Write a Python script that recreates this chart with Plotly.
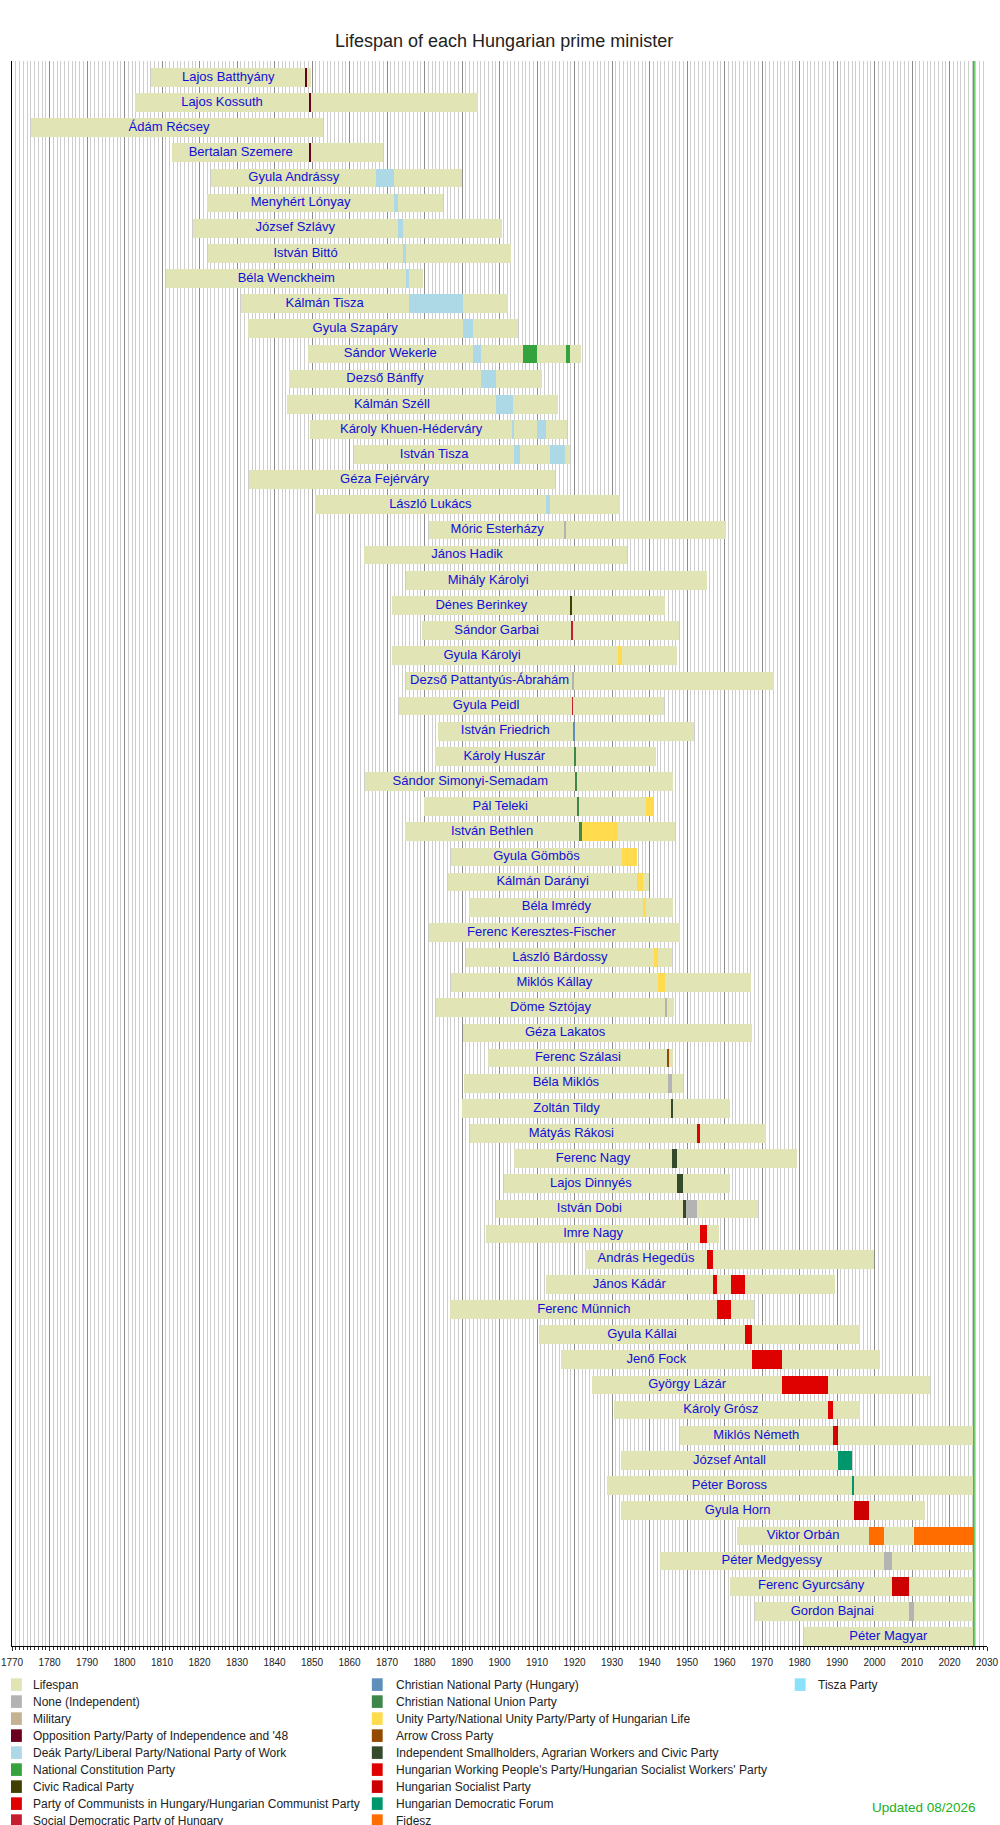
import plotly.graph_objects as go

# ---------------- data ----------------
names = [
    "Lajos Batthyány", "Lajos Kossuth", "Ádám Récsey", "Bertalan Szemere",
    "Gyula Andrássy", "Menyhért Lónyay", "József Szlávy", "István Bittó",
    "Béla Wenckheim", "Kálmán Tisza", "Gyula Szapáry", "Sándor Wekerle",
    "Dezső Bánffy", "Kálmán Széll", "Károly Khuen-Héderváry", "István Tisza",
    "Géza Fejérváry", "László Lukács", "Móric Esterházy", "János Hadik",
    "Mihály Károlyi", "Dénes Berinkey", "Sándor Garbai", "Gyula Károlyi",
    "Dezső Pattantyús-Ábrahám", "Gyula Peidl", "István Friedrich", "Károly Huszár",
    "Sándor Simonyi-Semadam", "Pál Teleki", "István Bethlen", "Gyula Gömbös",
    "Kálmán Darányi", "Béla Imrédy", "Ferenc Keresztes-Fischer", "László Bárdossy",
    "Miklós Kállay", "Döme Sztójay", "Géza Lakatos", "Ferenc Szálasi",
    "Béla Miklós", "Zoltán Tildy", "Mátyás Rákosi", "Ferenc Nagy",
    "Lajos Dinnyés", "István Dobi", "Imre Nagy", "András Hegedüs",
    "János Kádár", "Ferenc Münnich", "Gyula Kállai", "Jenő Fock",
    "György Lázár", "Károly Grósz", "Miklós Németh", "József Antall",
    "Péter Boross", "Gyula Horn", "Viktor Orbán", "Péter Medgyessy",
    "Ferenc Gyurcsány", "Gordon Bajnai", "Péter Magyar",
]

birth = [
    1807.12, 1802.72, 1775.0, 1812.65,
    1823.18, 1822.01, 1818.15, 1822.34,
    1811.13, 1830.94, 1832.83, 1848.87,
    1843.82, 1843.44, 1849.39, 1861.31,
    1833.20, 1850.81, 1881.32, 1863.89,
    1875.17, 1871.27, 1879.24, 1871.35,
    1875.19, 1873.26, 1883.50, 1882.69,
    1864.22, 1879.83, 1874.77, 1886.98,
    1886.22, 1891.99, 1881.13, 1890.94,
    1887.06, 1883.01, 1890.33, 1897.02,
    1890.44, 1889.88, 1892.19, 1903.77,
    1901.29, 1898.99, 1896.43, 1922.83,
    1912.40, 1886.88, 1910.42, 1916.38,
    1924.71, 1930.58, 1948.07, 1932.27,
    1928.65, 1932.51, 1963.41, 1942.80,
    1961.42, 1968.18, 1981.20,
]

# None = still alive at the time of the chart
death = [
    1849.76, 1894.22, 1852.98, 1869.05,
    1890.13, 1884.84, 1900.59, 1903.18,
    1879.51, 1902.22, 1905.05, 1921.65,
    1911.39, 1915.62, 1918.13, 1918.83,
    1914.82, 1932.15, 1960.49, 1933.94,
    1955.21, 1944.23, 1947.85, 1947.31,
    1973.32, 1943.81, 1951.90, 1941.82,
    1946.34, 1941.25, 1946.76, 1936.76,
    1939.83, 1946.16, 1948.17, 1946.03,
    1967.04, 1946.64, 1967.39, 1946.20,
    1948.89, 1961.59, 1971.10, 1979.45,
    1961.34, 1968.90, 1958.46, 1999.81,
    1989.51, 1967.91, 1996.19, 2001.39,
    2014.75, 1996.02, None, 1993.95,
    None, 2013.46, None, None,
    None, None, None,
]

# date each person first took office
first_office = [
    1848.21, 1849.28, 1848.75, 1849.33,
    1867.13, 1871.87, 1872.92, 1874.22,
    1875.17, 1875.80, 1890.20, 1892.88,
    1895.04, 1899.16, 1903.49, 1903.84,
    1905.46, 1912.31, 1917.45, 1918.83,
    1918.83, 1919.03, 1919.22, 1919.35,
    1919.53, 1919.58, 1919.60, 1919.90,
    1920.20, 1920.55, 1921.28, 1932.75,
    1936.78, 1938.37, 1941.25, 1941.25,
    1942.19, 1944.22, 1944.66, 1944.79,
    1944.97, 1945.87, 1946.08, 1946.09,
    1947.41, 1948.94, 1953.51, 1955.30,
    1956.84, 1958.08, 1965.50, 1967.29,
    1975.37, 1987.48, 1988.90, 1990.39,
    1993.95, 1994.54, 1998.51, 2002.40,
    2004.74, 2009.28, 2026.15,
]

parties = [
    "Lifespan",
    "None (Independent)",
    "Military",
    "Opposition Party/Party of Independence and '48",
    "Deák Party/Liberal Party/National Party of Work",
    "National Constitution Party",
    "Civic Radical Party",
    "Party of Communists in Hungary/Hungarian Communist Party",
    "Social Democratic Party of Hungary",
    "Christian National Party (Hungary)",
    "Christian National Union Party",
    "Unity Party/National Unity Party/Party of Hungarian Life",
    "Arrow Cross Party",
    "Independent Smallholders, Agrarian Workers and Civic Party",
    "Hungarian Working People's Party/Hungarian Socialist Workers' Party",
    "Hungarian Socialist Party",
    "Hungarian Democratic Forum",
    "Fidesz",
    "Tisza Party",
]

party_colors = [
    "#e1e4b5", "#b3b3b3", "#c4b393", "#6a0020", "#add8e6", "#34a33d",
    "#404000", "#e00000", "#c41e30", "#5e8fba", "#3f864a", "#ffdb4d",
    "#934900", "#354a2a", "#df0000", "#cc0000", "#00966b", "#ff6c00",
    "#8ae2fa",
]

# visible terms of office: person, start, end, party
term_person = [
    "Lajos Batthyány", "Lajos Kossuth", "Bertalan Szemere",
    "Gyula Andrássy", "Menyhért Lónyay", "József Szlávy", "István Bittó",
    "Béla Wenckheim", "Kálmán Tisza", "Gyula Szapáry",
    "Sándor Wekerle", "Sándor Wekerle", "Sándor Wekerle",
    "Dezső Bánffy", "Kálmán Széll",
    "Károly Khuen-Héderváry", "Károly Khuen-Héderváry",
    "István Tisza", "István Tisza", "László Lukács",
    "Móric Esterházy", "Dénes Berinkey", "Sándor Garbai", "Gyula Károlyi",
    "Dezső Pattantyús-Ábrahám", "Gyula Peidl", "István Friedrich",
    "Károly Huszár", "Sándor Simonyi-Semadam",
    "Pál Teleki", "Pál Teleki", "István Bethlen", "István Bethlen",
    "Gyula Gömbös", "Kálmán Darányi", "Béla Imrédy", "László Bárdossy",
    "Miklós Kállay", "Döme Sztójay", "Ferenc Szálasi", "Béla Miklós",
    "Zoltán Tildy", "Mátyás Rákosi", "Ferenc Nagy", "Lajos Dinnyés",
    "István Dobi", "István Dobi", "Imre Nagy", "András Hegedüs",
    "János Kádár", "János Kádár", "Ferenc Münnich", "Gyula Kállai",
    "Jenő Fock", "György Lázár", "Károly Grósz",
    "Miklós Németh", "Miklós Németh", "József Antall", "Péter Boross",
    "Gyula Horn", "Viktor Orbán", "Viktor Orbán", "Péter Medgyessy",
    "Ferenc Gyurcsány", "Gordon Bajnai", "Péter Magyar",
]
term_start = [
    1848.21, 1849.28, 1849.33,
    1867.13, 1871.87, 1872.92, 1874.22,
    1875.17, 1875.80, 1890.20,
    1892.88, 1906.27, 1917.63,
    1895.04, 1899.16,
    1903.49, 1910.05,
    1903.84, 1913.44, 1912.31,
    1917.45, 1919.03, 1919.22, 1931.65,
    1919.53, 1919.58, 1919.60,
    1919.90, 1920.20,
    1920.55, 1939.13, 1921.28, 1922.10,
    1932.75, 1936.78, 1938.37, 1941.25,
    1942.19, 1944.22, 1944.79, 1944.97,
    1945.87, 1952.62, 1946.09, 1947.41,
    1948.94, 1949.60, 1953.51, 1955.30,
    1956.84, 1961.70, 1958.08, 1965.50,
    1967.29, 1975.37, 1987.48,
    1988.90, 1989.77, 1990.39, 1993.95,
    1994.54, 1998.51, 2010.41, 2002.40,
    2004.74, 2009.28, 2026.15,
]
term_end = [
    1848.75, 1849.61, 1849.61,
    1871.87, 1872.92, 1874.22, 1875.17,
    1875.80, 1890.20, 1892.88,
    1895.04, 1910.05, 1918.83,
    1899.16, 1903.49,
    1903.84, 1912.31,
    1905.46, 1917.45, 1913.44,
    1917.63, 1919.22, 1919.58, 1932.75,
    1919.61, 1919.60, 1919.90,
    1920.20, 1920.55,
    1921.28, 1941.25, 1922.10, 1931.65,
    1936.76, 1938.37, 1939.13, 1942.18,
    1944.22, 1944.66, 1945.24, 1945.87,
    1946.09, 1953.51, 1947.41, 1948.94,
    1949.60, 1952.62, 1955.30, 1956.81,
    1958.08, 1965.50, 1961.70, 1967.29,
    1975.37, 1987.48, 1988.90,
    1989.77, 1990.39, 1993.95, 1994.54,
    1998.51, 2002.40, 2026.15, 2004.74,
    2009.28, 2010.41, 2026.15,
]
term_party = [
    3, 3, 3,
    4, 4, 4, 4,
    4, 4, 4,
    4, 5, 5,
    4, 4,
    4, 4,
    4, 4, 4,
    1, 6, 8, 11,
    1, 8, 9,
    10, 10,
    10, 11, 10, 11,
    11, 11, 11, 11,
    11, 1, 12, 1,
    13, 14, 13, 13,
    13, 1, 14, 14,
    14, 14, 14, 14,
    14, 14, 14,
    14, 15, 16, 16,
    15, 17, 17, 1,
    15, 1, 18,
]

x_ticks = list(range(1770, 2031, 10))
NOW = 2026.15          # end of lifespan bars for living people
UPDATED = 2026.5       # "Updated 08/2026" marker line
TITLE = "Lifespan of each Hungarian prime minister"
UPDATED_TEXT = "Updated 08/2026"

# ---------------- geometry (pixels) ----------------
W, H = 1000, 1825
PX0, PX1 = 1, 990          # plot area left/right
PY0, PY1 = 61, 1645.7      # plot area top/bottom
N = len(names)
BAR_W = 0.744
Y_TOP, Y_BOT = -0.65, N - 0.62

def px_x(p):
    return (p - PX0) / (PX1 - PX0)

def px_y(p):
    return (PY1 - p) / (PY1 - PY0)

row = {n: i for i, n in enumerate(names)}

fig = go.Figure()

# lifespan bars
life_end = [d if d is not None else NOW for d in death]
fig.add_trace(go.Bar(
    orientation="h",
    y=list(range(N)),
    base=birth,
    x=[e - b for b, e in zip(birth, life_end)],
    width=BAR_W,
    marker=dict(color=party_colors[0], line=dict(width=0)),
    hoverinfo="skip",
    name=parties[0],
))

# term bars, one trace per party
for pi in range(1, len(parties)):
    idx = [k for k, p in enumerate(term_party) if p == pi]
    if not idx:
        continue
    fig.add_trace(go.Bar(
        orientation="h",
        y=[row[term_person[k]] for k in idx],
        base=[term_start[k] for k in idx],
        x=[term_end[k] - term_start[k] for k in idx],
        width=BAR_W,
        marker=dict(color=party_colors[pi], line=dict(width=0)),
        hoverinfo="skip",
        name=parties[pi],
    ))

# name labels, centred between birth and first taking office
fig.add_trace(go.Scatter(
    x=[(b + f) / 2 for b, f in zip(birth, first_office)],
    y=list(range(N)),
    mode="text",
    text=names,
    textposition="middle center",
    textfont=dict(family="Liberation Sans, Arial, sans-serif", size=13, color="#1010d8"),
    hoverinfo="skip",
    cliponaxis=False,
))

shapes = [
    dict(type="line", xref="x", yref="paper", x0=UPDATED, x1=UPDATED, y0=0, y1=1,
         line=dict(color="#1fb51f", width=1.5), layer="above"),
]
annotations = [
    dict(text=TITLE, xref="paper", yref="paper", x=px_x(500), y=px_y(41.5),
         xanchor="center", yanchor="middle", showarrow=False,
         font=dict(family="Liberation Sans, Arial, sans-serif", size=18, color="#222222")),
    dict(text=UPDATED_TEXT, xref="paper", yref="paper", x=px_x(981), y=px_y(1806.7),
         xanchor="right", yanchor="middle", showarrow=False,
         font=dict(family="Liberation Sans, Arial, sans-serif", size=13.5, color="#22b022")),
]

# legend built as swatches + text
col_sq = [0, 366, 795]
col_tx = [20.7, 388, 817]
for k, (p, c) in enumerate(zip(parties, party_colors)):
    col, r = divmod(k, 9)
    cy = 1684.3 + 17.0 * r
    shapes.append(dict(type="rect", xref="paper", yref="paper",
                       x0=px_x(col_sq[col]), x1=px_x(col_sq[col] + 11),
                       y0=px_y(cy - 6.3), y1=px_y(cy + 6.3),
                       fillcolor=c, line=dict(width=0), layer="above"))
    annotations.append(dict(text=p.replace("'", "&#39;"), xref="paper", yref="paper",
                            x=px_x(col_tx[col]), y=px_y(cy + 0.5),
                            xanchor="left", yanchor="middle", showarrow=False,
                            font=dict(family="Liberation Sans Narrow, Arial Narrow, Liberation Sans, sans-serif",
                                      size=12, color="#222222")))

fig.update_layout(
    width=W, height=H,
    margin=dict(l=PX0, r=W - PX1, t=PY0, b=H - PY1, pad=0),
    paper_bgcolor="white", plot_bgcolor="white",
    barmode="overlay",
    bargap=0,
    showlegend=False,
    shapes=shapes,
    annotations=annotations,
    xaxis=dict(
        range=[1770, 2030],
        tickmode="array", tickvals=x_ticks, ticktext=[str(t) for t in x_ticks],
        showgrid=True, gridcolor="#8c8c8c", gridwidth=1,
        minor=dict(dtick=1, tick0=1770, showgrid=True, gridcolor="#cdcdcd", gridwidth=1,
                   ticks="outside", ticklen=3, tickcolor="#333333"),
        ticks="outside", ticklen=4, tickcolor="#333333",
        showline=True, linecolor="black", linewidth=1,
        zeroline=False,
        tickfont=dict(family="Liberation Sans, Arial, sans-serif", size=10, color="#222222"),
        ticklabelstandoff=3,
        ticklabeloverflow="allow",
        fixedrange=True,
    ),
    yaxis=dict(
        range=[Y_BOT, Y_TOP],
        showticklabels=False, showgrid=False, zeroline=False,
        showline=True, linecolor="black", linewidth=1,
        ticks="",
        fixedrange=True,
    ),
)

fig.write_html("out.html",
               config={"displayModeBar": False, "staticPlot": False},
               post_script="document.body.style.margin='0px';document.body.style.overflow='hidden';")
